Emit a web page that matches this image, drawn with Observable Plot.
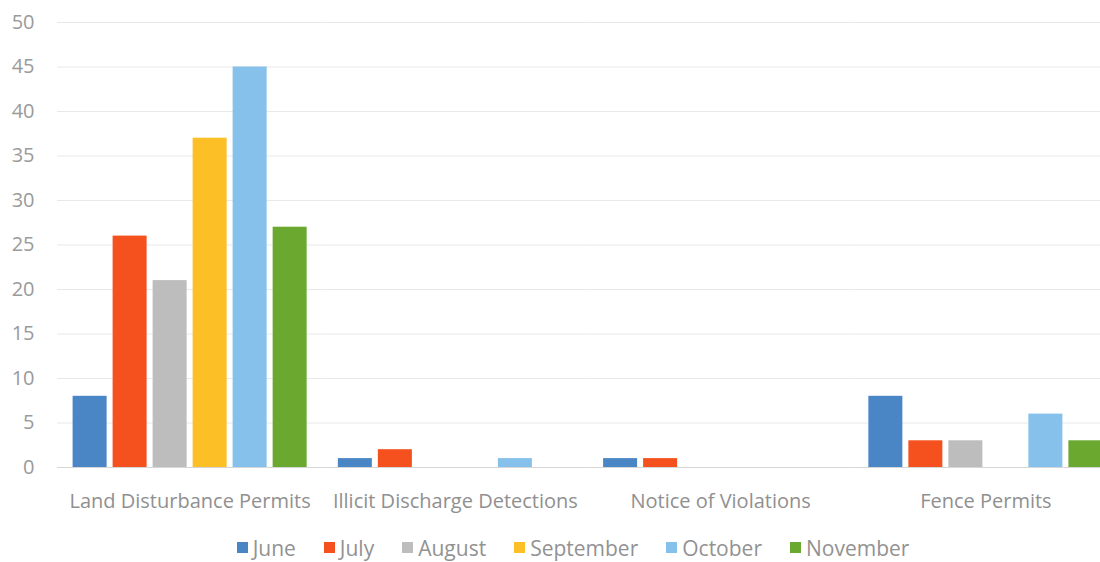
<!DOCTYPE html>
<html>
<head>
<meta charset="utf-8">
<script src="https://cdn.jsdelivr.net/npm/d3@7"></script>
<script src="https://cdn.jsdelivr.net/npm/@observablehq/plot@0.6"></script>
<style>
  html, body { margin: 0; padding: 0; background: #fff; overflow: hidden; }
  #chart { width: 1100px; }
  #legend { display: flex; justify-content: center; padding-left: 74px; margin-top: 11px; }
  #legend span { margin-right: 28px !important; }
  #legend svg { margin-right: 5px !important; }
</style>
</head>
<body>
<div id="chart"></div>
<div id="legend"></div>
<script>
const categories = ["Land Disturbance Permits", "Illicit Discharge Detections", "Notice of Violations", "Fence Permits"];
const months = ["June", "July", "August", "September", "October", "November"];
const june      = [8, 1, 1, 8];
const july      = [26, 2, 1, 3];
const august    = [21, 0, 0, 3];
const september = [37, 0, 0, 0];
const october   = [45, 1, 0, 6];
const november  = [27, 0, 0, 3];
const yTicks = [0, 5, 10, 15, 20, 25, 30, 35, 40, 45, 50];
const colors = ["#4a86c6", "#f4511e", "#bdbdbd", "#fdbf26", "#85c1ea", "#6aa82f"];

const series = [june, july, august, september, october, november];
const data = [];
categories.forEach((c, i) => {
  months.forEach((m, j) => data.push({category: c, month: m, value: series[j][i]}));
});

const font = "'Open Sans', sans-serif";
const plot = Plot.plot({
  width: 1100,
  height: 520,
  marginLeft: 57,
  marginRight: 0,
  marginTop: 22,
  marginBottom: 53,
  style: {fontFamily: font, fontSize: "20px", color: "#9a9a9a", background: "#fff", overflow: "visible"},
  fx: {domain: categories, range: [57, 1118], padding: 0, label: null, round: false},
  x: {domain: months, paddingInner: 0.15, paddingOuter: 0.39, axis: null, round: false},
  y: {domain: [0, 50], ticks: yTicks, label: null},
  color: {domain: months, range: colors},
  marks: [
    Plot.gridY(yTicks.filter(d => d > 0), {stroke: "#e8e8e8", strokeOpacity: 1, strokeWidth: 1}),
    Plot.ruleY([0], {stroke: "#d6d6d6", strokeWidth: 1}),
    Plot.barY(data, {fx: "category", x: "month", y: "value", fill: "month"}),
    Plot.axisY({ticks: yTicks, tickSize: 0, tickPadding: 23, fill: "#9a9a9a", fontSize: 20, label: null}),
    Plot.axisFx({anchor: "bottom", tickSize: 0, tickPadding: 26, fill: "#909090", fontSize: 20, label: null})
  ]
});
document.getElementById("chart").appendChild(plot);

const leg = plot.legend("color", {
  swatchSize: 11,
  style: {fontFamily: font, fontSize: "21px", color: "#929292"}
});
document.getElementById("legend").appendChild(leg);
</script>
</body>
</html>
